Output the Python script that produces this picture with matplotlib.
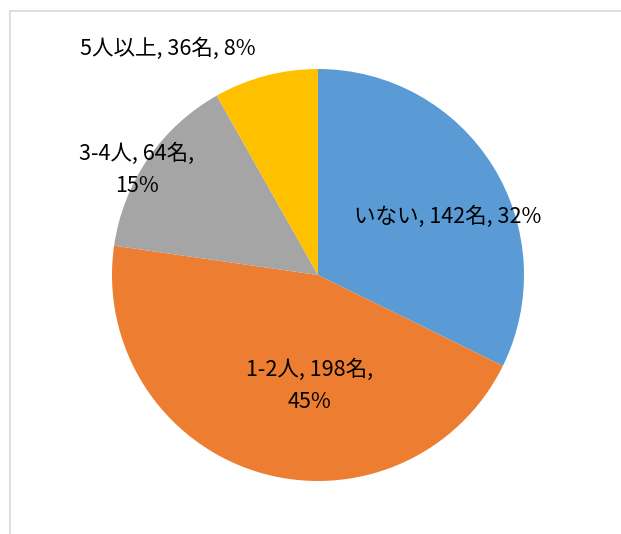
import matplotlib
matplotlib.use("Agg")
import matplotlib.pyplot as plt
from matplotlib.lines import Line2D

plt.rcParams['font.family'] = ['Noto Sans CJK JP', 'DejaVu Sans']

categories = ['いない', '1-2人', '3-4人', '5人以上']
counts = [142, 198, 64, 36]
percents = ['32%', '45%', '15%', '8%']
colors = ['#5B9BD5', '#ED7D31', '#A5A5A5', '#FFC000']

# label text and where it sits (pie radius = 1)
label_text = [
    'いない, 142名, 32%',
    '1-2人, 198名,\n45%',
    '3-4人, 64名,\n15%',
    '5人以上, 36名, 8%',
]
label_pos = [(0.63, 0.28), (-0.04, -0.54), (-0.88, 0.51), (-0.73, 1.10)]

W, H = 621, 534
fig = plt.figure(figsize=(W / 100, H / 100), dpi=100)

cx, cy, r = 318, 275, 206
ax = fig.add_axes([(cx - r) / W, (H - cy - r) / H, 2 * r / W, 2 * r / H])
ax.pie(counts, colors=colors, startangle=90, counterclock=False, radius=1,
       wedgeprops=dict(linewidth=0))
ax.set_xlim(-1, 1)
ax.set_ylim(-1, 1)
ax.set_aspect('equal')
ax.axis('off')

for txt, (x, y) in zip(label_text, label_pos):
    ax.text(x, y, txt, ha='center', va='center', fontsize=15.5, color='black',
            linespacing=1.6)

# chart frame (top and left edges visible)
fx = 9.5 / W
fy = 1 - 10.5 / H
fig.add_artist(Line2D([fx, 1], [fy, fy], transform=fig.transFigure,
                      color='#D9D9D9', linewidth=1.2))
fig.add_artist(Line2D([fx, fx], [0, fy], transform=fig.transFigure,
                      color='#D9D9D9', linewidth=1.2))

fig.savefig('out.png', dpi=100)
